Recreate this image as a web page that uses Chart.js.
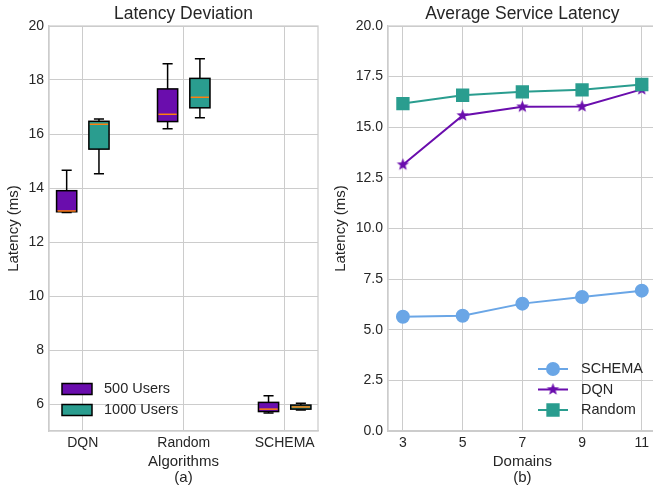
<!DOCTYPE html>
<html>
<head>
<meta charset="utf-8">
<script src="https://cdn.jsdelivr.net/npm/chart.js@4.4.1/dist/chart.umd.min.js"></script>
<style>
  html, body { margin: 0; padding: 0; background: #fff; overflow: hidden; }
  #wrap { position: relative; width: 653px; height: 488px; overflow: hidden; }
  #boxChart { position: absolute; left: 0; top: 0; }
  #lineChart { position: absolute; left: 330px; top: 0; }
</style>
</head>
<body>
<div id="wrap">
  <canvas id="boxChart" width="330" height="488"></canvas>
  <canvas id="lineChart" width="340" height="488"></canvas>
</div>
<script>
// --- dados do gráfico (a) ---
const algoritmos = ['DQN', 'Random', 'SCHEMA'];
const posicoes = [1, 2, 3];
const grupos = ['500 Users', '1000 Users'];
// [bigode inferior, Q1, mediana, Q3, bigode superior]
const box500 = [
  [13.09, 13.12, 13.15, 13.90, 14.66],
  [16.19, 16.46, 16.73, 17.67, 18.60],
  [5.67, 5.72, 5.81, 6.06, 6.31]
];
const box1000 = [
  [14.53, 15.44, 16.36, 16.47, 16.56],
  [16.60, 16.97, 17.36, 18.06, 18.79],
  [5.78, 5.81, 5.89, 5.96, 6.03]
];
const ticksA = [6, 8, 10, 12, 14, 16, 18, 20];

// --- dados do gráfico (b) ---
const dominios = [3, 5, 7, 9, 11];
const series = ['SCHEMA', 'DQN', 'Random'];
const latSchema = [5.64, 5.69, 6.29, 6.62, 6.93];
const latDqn = [13.15, 15.58, 16.01, 16.03, 16.87];
const latRandom = [16.17, 16.58, 16.75, 16.85, 17.11];
const ticksB = [0, 2.5, 5, 7.5, 10, 12.5, 15, 17.5, 20];

const cores = {
  roxo: '#6a0dad', verde: '#2a9d8f', azul: '#6aa6e6',
  mediana: '#ff7f0e', grade: '#cccccc', texto: '#262626'
};

Chart.defaults.font.family = "'Liberation Sans', Arial, sans-serif";
Chart.defaults.color = cores.texto;

// Estrela preenchida (igual ao marcador '*' do matplotlib)
function criarEstrela(cor, raio) {
  const t = Math.ceil(raio * 2 + 2);
  const c = document.createElement('canvas');
  c.width = t; c.height = t;
  const ctx = c.getContext('2d');
  ctx.beginPath();
  for (let k = 0; k < 10; k++) {
    const r = k % 2 === 0 ? raio : raio * 0.42;
    const a = -Math.PI / 2 + k * Math.PI / 5;
    ctx.lineTo(t / 2 + r * Math.cos(a), t / 2 + r * Math.sin(a));
  }
  ctx.closePath();
  ctx.fillStyle = cor;
  ctx.fill();
  return c;
}

// Moldura (spines) em volta da área
const molduraPlugin = {
  id: 'moldura',
  afterDraw(chart) {
    const { ctx, chartArea: a } = chart;
    ctx.save();
    ctx.strokeStyle = cores.grade;
    ctx.lineWidth = 1.25;
    ctx.strokeRect(a.left, a.top, a.right - a.left, a.bottom - a.top);
    ctx.restore();
  }
};

// Desenha os boxplots usando as escalas do Chart.js
const boxPlugin = {
  id: 'boxplot',
  afterDatasetsDraw(chart) {
    const { ctx, scales: { x, y } } = chart;
    ctx.save();
    chart.data.datasets.forEach(ds => {
      ds.box.forEach((b, i) => {
        const cx = x.getPixelForValue(posicoes[i] + ds.deslocamento);
        const meia = Math.abs(x.getPixelForValue(posicoes[i] + 0.1) - x.getPixelForValue(posicoes[i]));
        const [lo, q1, med, q3, hi] = b.map(v => y.getPixelForValue(v));
        ctx.lineWidth = 1.5;
        ctx.strokeStyle = '#000';
        // bigodes
        ctx.beginPath();
        ctx.moveTo(cx, q3); ctx.lineTo(cx, hi);
        ctx.moveTo(cx, q1); ctx.lineTo(cx, lo);
        ctx.moveTo(cx - meia / 2, hi); ctx.lineTo(cx + meia / 2, hi);
        ctx.moveTo(cx - meia / 2, lo); ctx.lineTo(cx + meia / 2, lo);
        ctx.stroke();
        // caixa
        ctx.fillStyle = ds.backgroundColor;
        ctx.fillRect(cx - meia, q3, meia * 2, q1 - q3);
        ctx.strokeRect(cx - meia, q3, meia * 2, q1 - q3);
        // mediana
        ctx.strokeStyle = cores.mediana;
        ctx.beginPath();
        ctx.moveTo(cx - meia + 1, med); ctx.lineTo(cx + meia - 1, med);
        ctx.stroke();
      });
    });
    // legenda (canto inferior esquerdo)
    const a = chart.chartArea;
    ctx.font = "14.5px 'Liberation Sans', Arial, sans-serif";
    ctx.textBaseline = 'middle';
    chart.data.datasets.forEach((ds, k) => {
      const ly = a.bottom - 42 + k * 21;
      ctx.fillStyle = ds.backgroundColor;
      ctx.fillRect(a.left + 13, ly - 5.5, 30, 11);
      ctx.strokeStyle = '#000';
      ctx.lineWidth = 1.5;
      ctx.strokeRect(a.left + 13, ly - 5.5, 30, 11);
      ctx.fillStyle = cores.texto;
      ctx.fillText(ds.label, a.left + 55, ly);
    });
    ctx.restore();
  }
};

// Legenda do gráfico (b), canto inferior direito
const legendaPlugin = {
  id: 'legendaLinhas',
  afterDraw(chart) {
    const { ctx } = chart;
    const x0 = 208, xt = 251;
    const linhasY = [369, 389.5, 410];
    ctx.save();
    ctx.font = "14.5px 'Liberation Sans', Arial, sans-serif";
    ctx.textBaseline = 'middle';
    chart.data.datasets.forEach((ds, k) => {
      const ly = linhasY[k];
      ctx.strokeStyle = ds.borderColor;
      ctx.lineWidth = 2;
      ctx.beginPath();
      ctx.moveTo(x0, ly); ctx.lineTo(x0 + 30, ly);
      ctx.stroke();
      ctx.fillStyle = ds.backgroundColor;
      Chart.helpers.drawPoint(ctx, { pointStyle: ds.pointStyle, radius: ds.pointRadius, rotation: 0, borderWidth: 1 }, x0 + 15, ly);
      ctx.fillStyle = cores.texto;
      ctx.fillText(ds.label, xt, ly);
    });
    ctx.restore();
  }
};

// Gráfico (a): Latency Deviation
new Chart(document.getElementById('boxChart'), {
  type: 'scatter',
  data: {
    datasets: [
      { label: grupos[0], box: box500, deslocamento: -0.16, backgroundColor: cores.roxo,
        data: box500.map((b, i) => ({ x: posicoes[i] - 0.16, y: b[2] })), pointRadius: 0 },
      { label: grupos[1], box: box1000, deslocamento: 0.16, backgroundColor: cores.verde,
        data: box1000.map((b, i) => ({ x: posicoes[i] + 0.16, y: b[2] })), pointRadius: 0 }
    ]
  },
  options: {
    responsive: false,
    animation: false,
    layout: { padding: { left: 0, right: 12, top: 0, bottom: 0 }, autoPadding: false },
    plugins: {
      legend: { display: false },
      tooltip: { enabled: false },
      title: {
        display: true, text: 'Latency Deviation', fullSize: false,
        font: { size: 17.5, weight: 'normal' }, padding: { top: 4, bottom: 1 }, color: cores.texto
      }
    },
    scales: {
      x: {
        type: 'linear', min: 0.665, max: 3.33,
        afterBuildTicks: s => { s.ticks = posicoes.map(v => ({ value: v })); },
        afterFit: s => { s.height = 57; },
        ticks: { callback: v => algoritmos[posicoes.indexOf(v)], font: { size: 14 }, padding: 4, maxRotation: 0, autoSkip: false },
        grid: { color: cores.grade, drawTicks: false },
        border: { color: cores.grade, width: 1.25 },
        title: { display: true, text: ['Algorithms', '(a)'], font: { size: 15, lineHeight: 1.07 }, padding: { top: 0, bottom: 2 } }
      },
      y: {
        min: 5, max: 20,
        afterBuildTicks: s => { s.ticks = ticksA.map(v => ({ value: v })); },
        afterFit: s => { s.width = 49; },
        ticks: { font: { size: 14 }, padding: 5 },
        grid: { color: cores.grade, drawTicks: false },
        border: { color: cores.grade, width: 1.25 },
        title: { display: true, text: 'Latency (ms)', font: { size: 15 }, padding: { top: 4.5, bottom: 0 } }
      }
    }
  },
  plugins: [boxPlugin, molduraPlugin]
});

// Gráfico (b): Average Service Latency
new Chart(document.getElementById('lineChart'), {
  type: 'line',
  data: {
    datasets: [
      { label: series[0], data: dominios.map((d, i) => ({ x: d, y: latSchema[i] })),
        borderColor: cores.azul, backgroundColor: cores.azul, pointBorderColor: cores.azul,
        pointStyle: 'circle', pointRadius: 6, borderWidth: 2, order: 2 },
      { label: series[1], data: dominios.map((d, i) => ({ x: d, y: latDqn[i] })),
        borderColor: cores.roxo, backgroundColor: cores.roxo,
        pointStyle: criarEstrela(cores.roxo, 6.5), pointRadius: 6, borderWidth: 2, order: 1 },
      { label: series[2], data: dominios.map((d, i) => ({ x: d, y: latRandom[i] })),
        borderColor: cores.verde, backgroundColor: cores.verde, pointBorderColor: cores.verde,
        pointStyle: 'rect', pointRadius: 8, borderWidth: 2, order: 0 }
    ]
  },
  options: {
    responsive: false,
    animation: false,
    layout: { padding: { left: 0, right: 13.3, top: 0, bottom: 0 }, autoPadding: false },
    plugins: {
      legend: { display: false },
      tooltip: { enabled: false },
      title: {
        display: true, text: 'Average Service Latency', fullSize: false,
        font: { size: 17.5, weight: 'normal' }, padding: { top: 4, bottom: 1 }, color: cores.texto
      }
    },
    scales: {
      x: {
        type: 'linear', min: 2.5, max: 11.5,
        afterBuildTicks: s => { s.ticks = dominios.map(v => ({ value: v })); },
        afterFit: s => { s.height = 57; },
        ticks: { font: { size: 14 }, padding: 4, maxRotation: 0, autoSkip: false },
        grid: { color: cores.grade, drawTicks: false },
        border: { color: cores.grade, width: 1.25 },
        title: { display: true, text: ['Domains', '(b)'], font: { size: 15, lineHeight: 1.07 }, padding: { top: 0, bottom: 2 } }
      },
      y: {
        min: 0, max: 20,
        afterBuildTicks: s => { s.ticks = ticksB.map(v => ({ value: v })); },
        afterFit: s => { s.width = 58; },
        ticks: { font: { size: 14 }, padding: 5, callback: v => v.toFixed(1) },
        grid: { color: cores.grade, drawTicks: false },
        border: { color: cores.grade, width: 1.25 },
        title: { display: true, text: 'Latency (ms)', font: { size: 15 }, padding: { top: 2, bottom: 0 } }
      }
    }
  },
  plugins: [legendaPlugin, molduraPlugin]
});
</script>
</body>
</html>
